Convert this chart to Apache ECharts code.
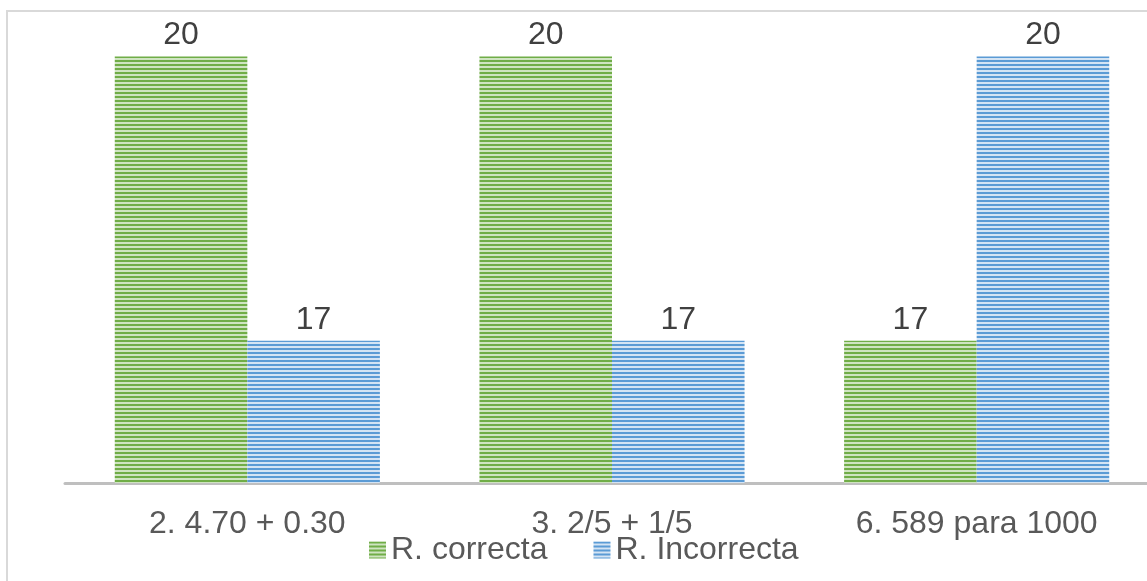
<!DOCTYPE html>
<html>
<head>
<meta charset="utf-8">
<script src="https://cdn.jsdelivr.net/npm/echarts@6/dist/echarts.min.js"></script>
<style>
  html, body { margin: 0; padding: 0; background: #ffffff; }
  #chart { width: 1147px; height: 581px; }
</style>
</head>
<body>
<div id="chart"></div>
<script>
// Question items and how many answers were right / wrong
const categories = ['2. 4.70 + 0.30', '3. 2/5 + 1/5', '6. 589 para 1000'];
const correctas = [20, 20, 17];
const incorrectas = [17, 17, 20];
const seriesNames = ['R. correcta', 'R. Incorrecta'];

// Horizontal stripe fill: 2px solid line over 2px pale line
function stripes(dark, light) {
  const c = document.createElement('canvas');
  c.width = 4; c.height = 4;
  const g = c.getContext('2d');
  g.fillStyle = light; g.fillRect(0, 0, 4, 4);
  g.fillStyle = dark; g.fillRect(0, 0, 4, 2);
  return { image: c, repeat: 'repeat' };
}

const greenFill = stripes('#70AD47', '#cfe4c1');
const blueFill = stripes('#5B9BD5', '#d4e4f4');

const font = 'Liberation Sans, Arial, sans-serif';

const barLabel = {
  show: true,
  position: 'top',
  distance: 5,
  color: '#404040',
  fontFamily: font,
  fontSize: 32
};

const chart = echarts.init(document.getElementById('chart'), null, { renderer: 'canvas' });
chart.setOption({
  animation: false,
  backgroundColor: '#ffffff',
  graphic: [{
    type: 'rect',
    shape: { x: 7, y: 11, width: 1300, height: 700 },
    style: { fill: 'none', stroke: '#d9d9d9', lineWidth: 2 },
    silent: true,
    z: -1
  }],
  grid: {
    left: 65, top: 9, width: 1094, height: 474,
    containLabel: false,
    outerBoundsMode: 'none'
  },
  legend: {
    left: 364,
    top: 529,
    itemWidth: 17,
    itemHeight: 17,
    itemGap: 46,
    icon: 'rect',
    textStyle: { color: '#595959', fontFamily: font, fontSize: 32 },
    data: seriesNames
  },
  xAxis: {
    type: 'category',
    data: categories,
    axisLine: { lineStyle: { color: '#bfbfbf', width: 3 } },
    axisTick: { show: false },
    axisLabel: { color: '#595959', fontFamily: font, fontSize: 32, margin: 25 }
  },
  yAxis: {
    type: 'value',
    min: 15.5,
    max: 20.5,
    show: false,
    splitLine: { show: false }
  },
  series: [
    {
      name: seriesNames[0],
      type: 'bar',
      data: correctas,
      barGap: '0%',
      barCategoryGap: '27.3%',
      itemStyle: { color: greenFill },
      label: barLabel
    },
    {
      name: seriesNames[1],
      type: 'bar',
      data: incorrectas,
      itemStyle: { color: blueFill },
      label: barLabel
    }
  ]
});
</script>
</body>
</html>
